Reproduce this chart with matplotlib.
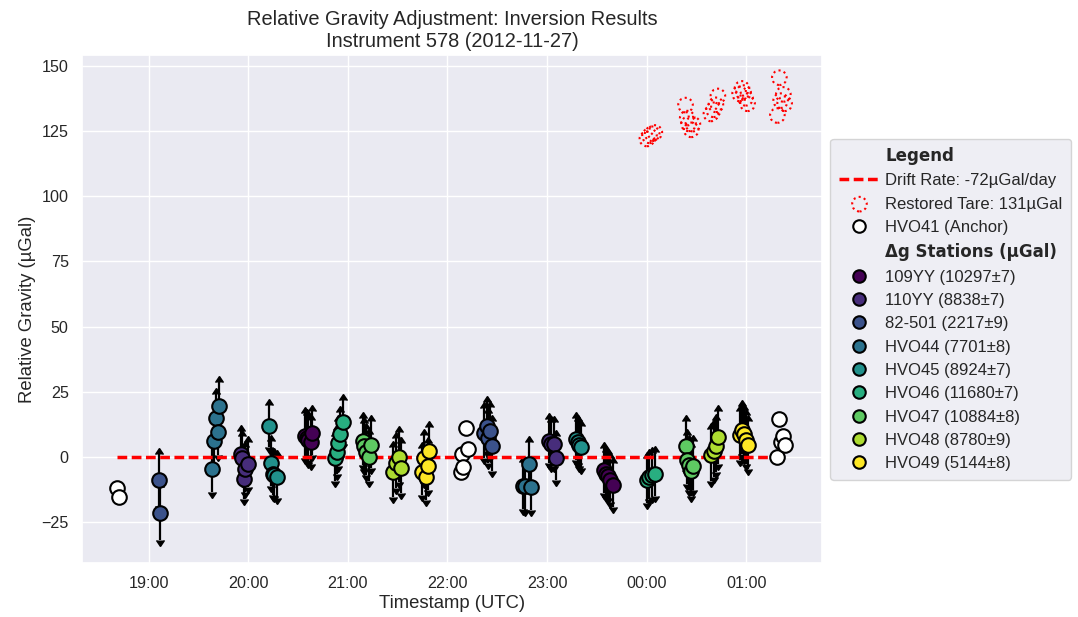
import numpy as np
import matplotlib
matplotlib.use("Agg")
import matplotlib.pyplot as plt
import matplotlib.dates as mdates
import matplotlib.lines as mlines
from matplotlib.lines import Line2D
import seaborn as sns
from datetime import datetime, timedelta

sns.set_theme(style="darkgrid")
plt.rcParams["font.family"] = ["Liberation Sans", "DejaVu Sans"]

# ---------------- data ----------------
survey_date = "2012-11-27"
instrument = 578
drift_rate = -72      # µGal/day
tare_value = 131      # µGal

station_names = ["109YY", "110YY", "82-501", "HVO44", "HVO45",
                 "HVO46", "HVO47", "HVO48", "HVO49"]
station_dg = [10297, 8838, 2217, 7701, 8924, 11680, 10884, 8780, 5144]
station_sd = [7, 7, 9, 8, 7, 7, 8, 9, 8]

# observations: station, time (decimal hours UTC after survey-date 00:00), value, error
obs_station = (["82-501"] * 2 + ["HVO44"] * 5 + ["110YY"] * 5 + ["HVO45"] * 5 +
               ["109YY"] * 5 + ["HVO46"] * 5 + ["HVO47"] * 5 + ["HVO48"] * 4 +
               ["HVO49"] * 5 + ["82-501"] * 5 + ["HVO44"] * 4 + ["110YY"] * 4 +
               ["HVO45"] * 4 + ["109YY"] * 5 + ["HVO46"] * 4 + ["HVO47"] * 5 +
               ["HVO48"] * 4 + ["HVO49"] * 5)
obs_time = [19.100, 19.117,
            19.633, 19.653, 19.673, 19.693, 19.707,
            19.925, 19.942, 19.958, 19.972, 19.998,
            20.213, 20.229, 20.246, 20.263, 20.286,
            20.568, 20.585, 20.600, 20.625, 20.635,
            20.869, 20.889, 20.903, 20.923, 20.947,
            21.148, 21.166, 21.181, 21.208, 21.231,
            21.455, 21.482, 21.513, 21.533,
            21.747, 21.761, 21.784, 21.801, 21.817,
            22.370, 22.394, 22.410, 22.427, 22.450,
            22.762, 22.779, 22.819, 22.839,
            23.020, 23.040, 23.067, 23.087,
            23.288, 23.308, 23.323, 23.338,
            23.573, 23.596, 23.616, 23.636, 23.660,
            24.002, 24.028, 24.055, 24.082,
            24.390, 24.407, 24.420, 24.447, 24.464,
            24.645, 24.671, 24.695, 24.715,
            24.933, 24.957, 24.973, 24.993, 25.013]
obs_value = [-8.7, -21.7,
             -4.6, 6.2, 14.9, 9.7, 19.5,
             1.3, -0.6, -8.3, -4.8, -2.9,
             12.0, -2.5, -6.7, -7.0, -7.6,
             8.2, 7.4, 6.5, 5.7, 9.2,
             -0.6, 1.8, 5.2, 8.7, 13.3,
             6.0, 4.2, 1.9, -0.1, 4.7,
             -5.7, -2.3, -0.1, -4.2,
             -5.7, -0.6, -7.6, -3.6, 2.4,
             9.2, 11.7, 7.3, 9.8, 4.2,
             -11.0, -11.2, -2.9, -11.5,
             6.2, 5.0, 5.0, -0.4,
             7.0, 5.7, 4.6, 3.7,
             -5.2, -6.5, -7.4, -8.8, -10.8,
             -9.0, -7.8, -7.0, -6.5,
             4.3, -1.0, -3.2, -5.5, -3.3,
             0.6, 2.2, 4.1, 7.5,
             8.3, 10.4, 8.8, 6.6, 4.5]
obs_err = [10.0, 10.3,
           8.8, 9.0, 9.2, 9.0, 9.2,
           8.5, 8.5, 8.0, 8.5, 8.8,
           8.0, 8.5, 8.0, 8.0, 8.0,
           8.5, 8.5, 8.5, 8.5, 8.5,
           8.5, 8.5, 8.5, 8.5, 8.5,
           9.0, 9.0, 9.0, 9.0, 9.0,
           9.5, 9.5, 9.5, 9.5,
           9.0, 9.0, 9.0, 9.0, 9.0,
           9.5, 9.5, 9.5, 9.5, 9.5,
           9.0, 9.0, 8.6, 9.0,
           8.5, 8.5, 8.5, 8.5,
           8.0, 8.0, 8.0, 8.0,
           8.5, 8.5, 8.5, 8.5, 8.3,
           8.5, 8.5, 8.5, 8.5,
           9.3, 9.3, 9.3, 9.5, 9.3,
           10.0, 10.0, 10.0, 10.2,
           9.3, 9.3, 9.3, 9.3, 9.3]

# anchor HVO41
anchor_time = [18.681, 18.701,
               22.136, 22.149, 22.159, 22.191, 22.211,
               25.312, 25.332, 25.345, 25.372, 25.385]
anchor_value = [-12.1, -15.3,
                -5.7, 1.3, -3.9, 11.1, 3.2,
                0.0, 14.5, 5.7, 8.1, 4.5]

# readings before restoring the tare
tare_time = [24.002, 24.028, 24.055, 24.082,
             24.390, 24.407, 24.420, 24.447, 24.464,
             24.645, 24.671, 24.695, 24.715,
             24.933, 24.957, 24.973, 24.993, 25.013,
             25.312, 25.332, 25.345, 25.372, 25.385]
tare_reading = [122.0, 123.2, 124.0, 124.5,
                135.0, 130.0, 127.8, 125.5, 127.7,
                131.6, 133.2, 135.1, 138.5,
                139.3, 141.4, 139.8, 137.6, 135.5,
                131.0, 145.5, 136.7, 139.1, 135.5]

# ---------------- plot ----------------
base = datetime.strptime(survey_date, "%Y-%m-%d")


def to_num(hours):
    return mdates.date2num([base + timedelta(hours=float(h)) for h in hours])


fig = plt.figure(figsize=(10.78, 6.17), dpi=100)
ax = fig.add_axes([0.076, 0.0875, 0.6865, 0.8233])

colors = plt.cm.viridis(np.linspace(0, 1, len(station_names)))
ot = to_num(obs_time)
ov = np.array(obs_value)
oe = np.array(obs_err)
ost = np.array(obs_station)

MS = 110

# error bars with arrow heads
ax.errorbar(ot, ov, yerr=oe, fmt="none", ecolor="black", elinewidth=1.6,
            capsize=0, zorder=2)
ax.plot(ot, ov + oe, linestyle="none", marker=mlines.CARETUPBASE,
        color="black", markersize=6, zorder=2)
ax.plot(ot, ov - oe, linestyle="none", marker=mlines.CARETDOWNBASE,
        color="black", markersize=6, zorder=2)

# drift line
dash = (0, (2.8, 1.3))
ax.plot(to_num([anchor_time[0], anchor_time[-1]]), [0, 0], color="red",
        linestyle=dash, linewidth=2.5, zorder=2.5)

# tare readings
tare_sc = ax.scatter(to_num(tare_time), tare_reading, s=MS, facecolors="none",
                     edgecolors="red", linewidths=1.5, linestyles=(0, (1, 1.6)),
                     zorder=3, label=f"Restored Tare: {tare_value}µGal")

# anchor
ax.scatter(to_num(anchor_time), anchor_value, s=MS, c="white",
           edgecolors="black", linewidths=1.5, zorder=3)

# stations
for name, col in zip(station_names, colors):
    m = ost == name
    ax.scatter(ot[m], ov[m], s=MS, color=col, edgecolors="black",
               linewidths=1.5, zorder=3)

ax.set_xlim(to_num([18.33])[0], to_num([25.76])[0])
ax.set_ylim(-40.7, 154.2)
ax.set_yticks(np.arange(-25, 151, 25))
ax.xaxis.set_major_locator(mdates.HourLocator())
ax.xaxis.set_major_formatter(mdates.DateFormatter("%H:%M"))
ax.tick_params(labelsize=11.6, colors="#262626")
ax.set_xlabel("Timestamp (UTC)", fontsize=13.3, labelpad=3)
ax.set_ylabel("Relative Gravity (µGal)", fontsize=13.3)
ax.set_title(f"Relative Gravity Adjustment: Inversion Results\n"
             f"Instrument {instrument} ({survey_date})", fontsize=14.4)

# legend
headers = ["Legend", "Δg Stations (µGal)"]
handles = [Line2D([], [], linestyle="none", label=headers[0]),
           Line2D([], [], color="red", linestyle=dash, linewidth=2.5,
                  label=f"Drift Rate: {drift_rate}µGal/day"),
           tare_sc,
           Line2D([], [], linestyle="none", marker="o", markerfacecolor="white",
                  markeredgecolor="black", markersize=9, markeredgewidth=1.5,
                  label="HVO41 (Anchor)"),
           Line2D([], [], linestyle="none", label=headers[1])]
for name, col, dg, sd in zip(station_names, colors, station_dg, station_sd):
    handles.append(Line2D([], [], linestyle="none", marker="o",
                          markerfacecolor=col, markeredgecolor="black",
                          markersize=9, markeredgewidth=1.5,
                          label=f"{name} ({dg}±{sd})"))
leg = ax.legend(handles=handles, loc="center left", bbox_to_anchor=(1.0, 0.5),
                fontsize=12, labelspacing=0.5, handlelength=2.5,
                handletextpad=0.3, borderpad=0.5)
for t in leg.get_texts():
    if t.get_text() in headers:
        t.set_fontweight("bold")
        t.set_fontfamily(["DejaVu Sans"])

fig.savefig("out.png", dpi=100)
